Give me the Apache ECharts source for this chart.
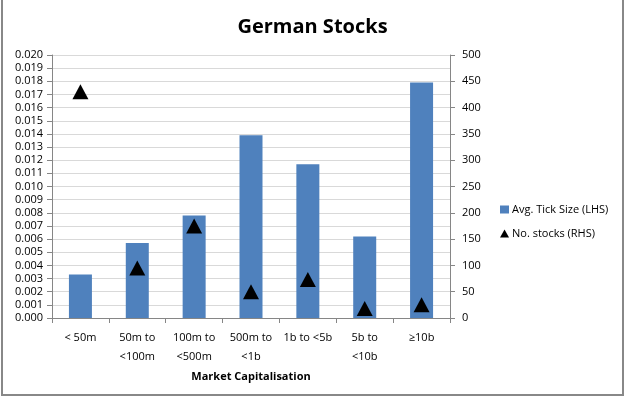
<!DOCTYPE html>
<html>
<head>
<meta charset="utf-8">
<script src="https://cdn.jsdelivr.net/npm/echarts@6/dist/echarts.min.js"></script>
<style>
  html, body { margin: 0; padding: 0; background: #fff; }
  #chart { width: 625px; height: 397px; }
</style>
</head>
<body>
<div id="chart"></div>
<script>
// market cap buckets
var categories = ['< 50m', '50m to\n<100m', '100m to\n<500m', '500m to\n<1b', '1b to <5b', '5b to\n<10b', '\u226510b'];
// avg tick size (left axis)
var tickSize = [0.0033, 0.0057, 0.0078, 0.0139, 0.0117, 0.0062, 0.0179];
// number of stocks (right axis)
var noStocks = [430, 95, 175, 50, 73, 18, 25];

var font = 'Open Sans';
var axisGray = '#868686';

var chart = echarts.init(document.getElementById('chart'), null, { renderer: 'canvas' });

chart.setOption({
  animation: false,
  backgroundColor: '#fff',
  textStyle: { fontFamily: font },
  title: {
    text: 'German Stocks',
    left: 'center',
    top: 12,
    textStyle: { fontFamily: font, fontSize: 20, fontWeight: 'bold', color: '#000' }
  },
  grid: { left: 52, right: 175, top: 55, bottom: 79 },
  legend: {
    orient: 'vertical',
    left: 495,
    top: 199,
    itemGap: 13,
    itemWidth: 9,
    itemHeight: 8,
    textStyle: { fontFamily: font, fontSize: 11, color: '#000', padding: [0, 0, 0, -2] },
    data: [
      { name: 'Avg. Tick Size (LHS)', icon: 'rect' },
      { name: 'No. stocks (RHS)', icon: 'triangle' }
    ]
  },
  xAxis: {
    type: 'category',
    data: categories,
    name: 'Market Capitalisation',
    nameLocation: 'middle',
    nameGap: 50,
    nameTextStyle: { fontFamily: font, fontSize: 11, fontWeight: 'bold', color: '#000' },
    axisLine: { lineStyle: { color: axisGray } },
    axisTick: { show: true, length: 5, lineStyle: { color: axisGray } },
    axisLabel: { color: '#000', fontSize: 11, lineHeight: 19, margin: 10, interval: 0 }
  },
  yAxis: [{
    type: 'value',
    min: 0,
    max: 0.02,
    interval: 0.001,
    axisLine: { show: true, lineStyle: { color: axisGray } },
    axisTick: { show: true, length: 5, lineStyle: { color: axisGray } },
    axisLabel: {
      color: '#000', fontSize: 11, margin: 9,
      formatter: function (v) { return v.toFixed(3); }
    },
    splitLine: { lineStyle: { color: '#d9d9d9' } }
  }, {
    type: 'value',
    min: 0,
    max: 500,
    interval: 50,
    position: 'right',
    axisLine: { show: true, lineStyle: { color: axisGray } },
    axisTick: { show: true, length: 5, lineStyle: { color: axisGray } },
    axisLabel: { color: '#000', fontSize: 11, margin: 12 },
    splitLine: { show: false }
  }],
  series: [{
    name: 'Avg. Tick Size (LHS)',
    type: 'bar',
    yAxisIndex: 0,
    data: tickSize,
    barWidth: 23,
    itemStyle: { color: '#4f81bd' }
  }, {
    name: 'No. stocks (RHS)',
    type: 'line',
    yAxisIndex: 1,
    data: noStocks,
    lineStyle: { width: 0, opacity: 0 },
    symbol: 'triangle',
    symbolSize: [16, 15],
    itemStyle: { color: '#000' },
    z: 5
  }],
  graphic: [{
    type: 'polyline',
    shape: { points: [[2, 0], [2, 395], [623, 395], [623, 0]] },
    style: { stroke: '#888', lineWidth: 2, fill: null },
    silent: true
  }]
});
</script>
</body>
</html>
